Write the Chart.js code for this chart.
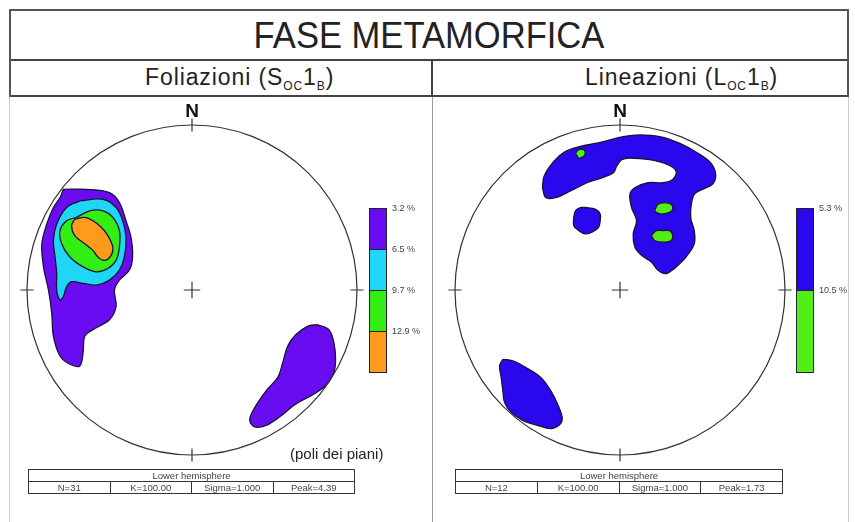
<!DOCTYPE html>
<html>
<head>
<meta charset="utf-8">
<script src="https://cdn.jsdelivr.net/npm/chart.js@4.4.1/dist/chart.umd.min.js"></script>
<style>
body{margin:0;background:#fff;font-family:"Liberation Sans",Arial,sans-serif;color:#222;}
#page{position:relative;width:855px;height:522px;overflow:hidden;background:#fff;}
.ln{position:absolute;}
.txt{position:absolute;white-space:nowrap;}
.sub{font-size:12px;position:relative;top:5px;}
canvas{position:absolute;}
.bar{position:absolute;border:1px solid #222;box-sizing:border-box;}
.lab{position:absolute;font-size:9px;color:#444;white-space:nowrap;line-height:10px;}
.tab{position:absolute;border:1.5px solid #333;box-sizing:border-box;font-size:9.5px;color:#444;}
.tab .r1{height:11px;line-height:11px;text-align:center;border-bottom:1.5px solid #333;}
.tab .r2{display:flex;height:11px;line-height:11px;}
.tab .r2 div{flex:1;text-align:center;border-left:1.5px solid #333;}
.tab .r2 div:first-child{border-left:none;}
</style>
</head>
<body>
<div id="page">
  <!-- frame -->
  <div class="ln" style="left:9px;top:9px;width:840px;height:2px;background:#555"></div>
  <div class="ln" style="left:9px;top:59px;width:840px;height:2px;background:#444"></div>
  <div class="ln" style="left:9px;top:95px;width:840px;height:2px;background:#444"></div>
  <div class="ln" style="left:9px;top:9px;width:2px;height:88px;background:#555"></div>
  <div class="ln" style="left:847px;top:9px;width:2px;height:88px;background:#555"></div>
  <div class="ln" style="left:9px;top:97px;width:1px;height:425px;background:#ccc"></div>
  <div class="ln" style="left:848px;top:97px;width:1px;height:425px;background:#ccc"></div>
  <div class="ln" style="left:431px;top:60px;width:2px;height:37px;background:#444"></div>
  <div class="ln" style="left:432px;top:97px;width:1px;height:425px;background:#999"></div>

  <div class="txt" style="left:9px;width:840px;top:13px;height:46px;line-height:46px;text-align:center;font-size:36px;transform:scaleX(0.96);">FASE METAMORFICA</div>
  <div class="txt" style="left:145px;top:64px;font-size:23px;line-height:26px;letter-spacing:0.9px;">Foliazioni (S<span class="sub">OC</span>1<span class="sub">B</span>)</div>
  <div class="txt" style="left:585px;top:64px;font-size:23px;line-height:26px;letter-spacing:0.9px;">Lineazioni (L<span class="sub">OC</span>1<span class="sub">B</span>)</div>

  <canvas id="netL" width="380" height="380" style="left:2px;top:100px"></canvas>
  <canvas id="netR" width="380" height="380" style="left:430px;top:100px"></canvas>

  <div id="legL"></div>
  <div id="legR"></div>

  <div class="txt" style="left:290px;top:444px;font-size:15px;line-height:20px;">(poli dei piani)</div>
  <div id="tabL" class="tab" style="left:28px;top:469px;width:327px;height:25px"></div>
  <div id="tabR" class="tab" style="left:455px;top:469px;width:328px;height:25px"></div>
</div>

<script>
// contour polygons, in percent of net radius (x = east, y = north)
// Foliazioni (poles to planes)
var folPurpleNW = [[-78,61],[-64,61],[-50,59],[-44,53],[-40,42],[-37,32],[-36,20],[-38,12],[-44,6],[-47,0],[-46,-10],[-50,-18],[-60,-24],[-65,-28],[-66,-38],[-68,-46],[-74,-45],[-80,-40],[-84,-28],[-85,-14],[-87,0],[-90,14],[-91,28],[-88,40],[-84,50],[-80,56]];
var folPurpleSE = [[76,-21],[83,-24],[86,-32],[87,-42],[86,-50],[82,-57],[74,-63],[63,-69],[53,-77],[45,-82],[38,-83],[35,-79],[37,-73],[45,-61],[52,-53],[55,-44],[58,-34],[63,-27],[70,-22]];
var folCyan = [[-68,54],[-54,55],[-46,50],[-42,42],[-40,32],[-41,20],[-44,12],[-50,6],[-58,3],[-66,4],[-73,5],[-76,2],[-78,-4],[-80,-6],[-82,0],[-82,10],[-83,20],[-84,30],[-82,40],[-76,50]];
var folGreen = [[-70,44],[-62,48],[-54,48],[-48,44],[-44,36],[-44,26],[-46,18],[-51,13],[-58,11],[-66,14],[-74,20],[-79,28],[-80,36],[-76,42]];
var folOrange = [[-71,43],[-65,44],[-60,42],[-55,38],[-51,33],[-48,26],[-49,21],[-53,18],[-57,20],[-60,24],[-65,28],[-71,33],[-73,39]];

// Lineazioni
var linBlueN = [[-47,62],[-46,69],[-40,78],[-33,84],[-24,87],[-14,89],[-6,91],[2,93],[12,94],[24,93],[36,89],[47,83],[55,77],[58,70],[56,64],[50,61],[45,58],[43,50],[43,43],[45,36],[45,28],[40,20],[34,14],[28,10],[23,12],[19,17],[13,21],[9,26],[8,34],[10,42],[7,50],[6,58],[9,62],[17,65],[26,65],[32,67],[34,72],[29,76],[18,79],[6,80],[1,79],[-2,75],[-4,71],[-11,68],[-20,65],[-30,60],[-39,56],[-45,56]];
var linBlueDot = [[-21,50],[-15,49],[-12,46],[-12,42],[-13,38],[-17,35],[-21,34],[-25,36],[-28,39],[-28,44],[-27,48],[-24,50]];
var linBlueSW = [[-71,-42],[-65,-43],[-57,-47],[-48,-53],[-42,-61],[-37,-71],[-35,-78],[-37,-82],[-42,-84],[-50,-82],[-59,-79],[-66,-74],[-70,-68],[-71,-61],[-72,-53],[-73,-46]];
var linGreenA = [[-27,83],[-25,85],[-22,85],[-21,83],[-22,81],[-25,80]];
var linGreenB = [[21,48],[23,52],[27,53],[31,52],[32,49],[30,47],[25,46],[22,47]];
var linGreenC = [[19,33],[22,36],[26,36],[30,36],[32,33],[31,30],[26,29],[21,30]];

// legends and statistics
var folLevels = ['3.2 %', '6.5 %', '9.7 %', '12.9 %'];
var folColors = ['#6a0cf2', '#1fd6f6', '#33ee12', '#ff9a1c'];
var linLevels = ['5.3 %', '10.5 %'];
var linColors = ['#2a08ee', '#52ee16'];
var folStats = ['N=31', 'K=100.00', 'Sigma=1.000', 'Peak=4.39'];
var linStats = ['N=12', 'K=100.00', 'Sigma=1.000', 'Peak=1.73'];

function poly(pts, color, order) {
    var data = pts.concat([pts[0]]).map(function (p) { return {x: p[0], y: p[1]}; });
    return {
        data: data,
        showLine: true,
        fill: 'shape',
        backgroundColor: color,
        borderColor: '#1a1238',
        borderWidth: 1.3,
        pointRadius: 0,
        tension: 0.35,
        order: order
    };
}

var netPlugin = {
    id: 'net',
    beforeDatasetsDraw: function (chart) {
        var ctx = chart.ctx, sx = chart.scales.x, sy = chart.scales.y;
        var cx = sx.getPixelForValue(0), cy = sy.getPixelForValue(0);
        var r = sx.getPixelForValue(100) - cx;
        ctx.save();
        ctx.beginPath();
        ctx.arc(cx, cy, r, 0, Math.PI * 2);
        ctx.clip();
    },
    afterDatasetsDraw: function (chart) {
        var ctx = chart.ctx, sx = chart.scales.x, sy = chart.scales.y;
        ctx.restore();
        var cx = sx.getPixelForValue(0), cy = sy.getPixelForValue(0);
        var r = sx.getPixelForValue(100) - cx;
        var t1 = sx.getPixelForValue(96) - cx, t2 = sx.getPixelForValue(104) - cx;
        var c = sx.getPixelForValue(5) - cx;
        ctx.save();
        ctx.strokeStyle = '#333';
        ctx.lineWidth = 1.2;
        ctx.beginPath();
        ctx.arc(cx, cy, r, 0, Math.PI * 2);
        ctx.stroke();
        ctx.beginPath();
        ctx.moveTo(cx, cy - t1); ctx.lineTo(cx, cy - t2);
        ctx.moveTo(cx, cy + t1); ctx.lineTo(cx, cy + t2);
        ctx.moveTo(cx - t1, cy); ctx.lineTo(cx - t2, cy);
        ctx.moveTo(cx + t1, cy); ctx.lineTo(cx + t2, cy);
        ctx.moveTo(cx - c, cy); ctx.lineTo(cx + c, cy);
        ctx.moveTo(cx, cy - c); ctx.lineTo(cx, cy + c);
        ctx.stroke();
        ctx.fillStyle = '#111';
        ctx.font = 'bold 19px "Liberation Sans", Arial, sans-serif';
        ctx.textAlign = 'center';
        ctx.textBaseline = 'middle';
        ctx.fillText('N', cx, sy.getPixelForValue(108));
        ctx.restore();
    }
};

function makeNet(id, datasets) {
    return new Chart(document.getElementById(id), {
        type: 'scatter',
        data: {datasets: datasets},
        options: {
            responsive: false,
            animation: false,
            events: [],
            layout: {padding: 25},
            plugins: {legend: {display: false}, tooltip: {enabled: false}},
            scales: {
                x: {type: 'linear', min: -100, max: 100, display: false},
                y: {type: 'linear', min: -100, max: 100, display: false}
            }
        },
        plugins: [netPlugin]
    });
}

makeNet('netL', [
    poly(folOrange, folColors[3], 1),
    poly(folGreen, folColors[2], 2),
    poly(folCyan, folColors[1], 3),
    poly(folPurpleNW, folColors[0], 4),
    poly(folPurpleSE, folColors[0], 4)
]);

makeNet('netR', [
    poly(linGreenA, linColors[1], 1),
    poly(linGreenB, linColors[1], 1),
    poly(linGreenC, linColors[1], 1),
    poly(linBlueN, linColors[0], 2),
    poly(linBlueDot, linColors[0], 2),
    poly(linBlueSW, linColors[0], 2)
]);

function legend(id, levels, colors, left, labLeft) {
    var el = document.getElementById(id);
    var top = 208, h = 164 / levels.length, html = '';
    for (var i = 0; i < levels.length; i++) {
        var y = Math.round(top + i * h);
        html += '<div class="bar" style="left:' + left + 'px;top:' + y + 'px;width:18px;height:' + (Math.round(h) + 1) + 'px;background:' + colors[i] + '"></div>';
        html += '<div class="lab" style="left:' + labLeft + 'px;top:' + (y - 5) + 'px">' + levels[i] + '</div>';
    }
    el.innerHTML = html;
}
legend('legL', folLevels, folColors, 369, 392);
legend('legR', linLevels, linColors, 796, 819);

function table(id, stats) {
    var html = '<div class="r1">Lower hemisphere</div><div class="r2">';
    for (var i = 0; i < stats.length; i++) html += '<div>' + stats[i] + '</div>';
    document.getElementById(id).innerHTML = html + '</div>';
}
table('tabL', folStats);
table('tabR', linStats);
</script>
</body>
</html>
